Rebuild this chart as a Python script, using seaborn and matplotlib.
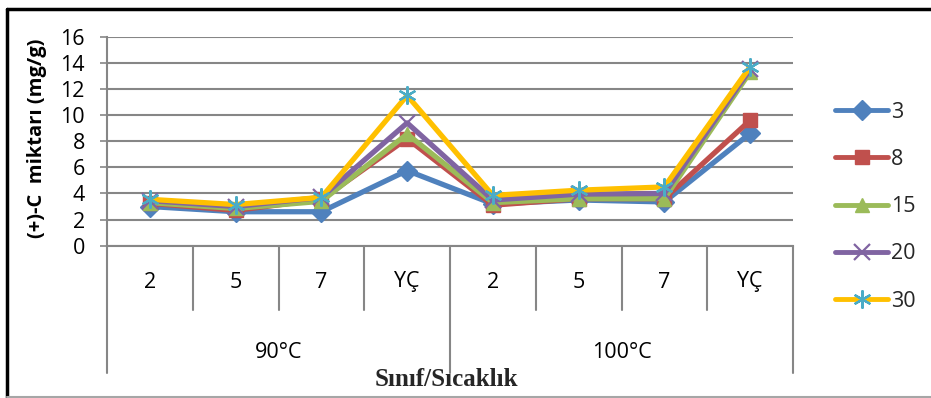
import matplotlib
matplotlib.use("Agg")
import matplotlib.pyplot as plt
import matplotlib.transforms as mtransforms
from matplotlib.lines import Line2D
import seaborn as sns
import pandas as pd

# ---- data ----
categories = ["2", "5", "7", "YÇ", "2", "5", "7", "YÇ"]
groups = ["90°C", "100°C"]
series_names = ["3", "8", "15", "20", "30"]
s3 = [3.0, 2.6, 2.6, 5.75, 3.2, 3.5, 3.35, 8.6]
s8 = [3.25, 2.7, 3.55, 8.2, 3.1, 3.6, 3.6, 9.6]
s15 = [3.3, 2.85, 3.4, 8.55, 3.3, 3.6, 3.6, 13.3]
s20 = [3.45, 3.0, 3.7, 9.4, 3.5, 3.95, 4.0, 13.5]
s30 = [3.55, 3.15, 3.7, 11.5, 3.85, 4.25, 4.5, 13.7]
values = [s3, s8, s15, s20, s30]

sns.set_theme(style="white")
plt.rcParams['font.family'] = ['Open Sans', 'DejaVu Sans']

W, H = 931, 398
fig = plt.figure(figsize=(W / 100, H / 100), dpi=100)
L, R, T, B = 107, 793, 36.7, 245.7
ax = fig.add_axes([L / W, 1 - B / H, (R - L) / W, (B - T) / H])

rows = []
for name, vals in zip(series_names, values):
    for i, v in enumerate(vals):
        rows.append({"pos": i, "value": v, "series": name})
df = pd.DataFrame(rows)

line_colors = ["#4F81BD", "#C0504D", "#9BBB59", "#8064A2", "#FFC000"]
markers = ["D", "s", "^", "x", (6, 2, 0)]
mfc = ["#4F81BD", "#C0504D", "#9BBB59", "#8064A2", "#4BACC6"]
mec = ["#4F81BD", "#C0504D", "#9BBB59", "#8064A2", "#4BACC6"]
msizes = [10, 10.5, 10.5, 11, 13]
mew = [1, 1, 1, 1.6, 1.6]

handles = []
for k, name in enumerate(series_names):
    sub = df[df["series"] == name]
    sns.lineplot(data=sub, x="pos", y="value", ax=ax, color=line_colors[k],
                 linewidth=3.8, marker=markers[k], markersize=msizes[k],
                 markerfacecolor=mfc[k], markeredgecolor=mec[k],
                 markeredgewidth=mew[k], zorder=3 + k, legend=False)
    handles.append(Line2D([0], [0], color=line_colors[k], linewidth=3.5,
                          marker=markers[k], markersize=msizes[k],
                          markerfacecolor=mfc[k], markeredgecolor=mec[k],
                          markeredgewidth=mew[k], label=name))

grid_c = "#868686"
txt_c = "#000000"
ax.set_xlim(-0.5, 7.5)
ax.set_ylim(0, 16)
ax.set_yticks(range(0, 17, 2))
ax.set_yticklabels([str(v) for v in range(0, 17, 2)], fontsize=15.5, color=txt_c)
ax.yaxis.grid(True, color=grid_c, linewidth=1.5)
ax.xaxis.grid(False)
ax.set_xticks([])
ax.tick_params(axis="y", left=True, length=5, width=1.2, color=grid_c, pad=11)
for s in ["top", "right"]:
    ax.spines[s].set_visible(False)
for s in ["left", "bottom"]:
    ax.spines[s].set_color(grid_c)
    ax.spines[s].set_linewidth(1.5)
ax.set_xlabel("")
ax.set_ylabel("")

trans = mtransforms.blended_transform_factory(ax.transData, ax.transAxes)
ah = B - T
y_inner = -(310 - B) / ah
y_group = -(373 - B) / ah
for xv in [0.5, 1.5, 2.5, 4.5, 5.5, 6.5]:
    ax.plot([xv, xv], [0, y_inner], transform=trans, color=grid_c, lw=1.5, clip_on=False)
for xv in [-0.5, 3.5, 7.5]:
    ax.plot([xv, xv], [0, y_group], transform=trans, color=grid_c, lw=1.5, clip_on=False)

y_cat = -(282 - B) / ah
for i, c in enumerate(categories):
    ax.text(i, y_cat, c, transform=trans, ha="center", va="center", fontsize=15.5, color=txt_c)
y_grp = -(352 - B) / ah
for g, xc in zip(groups, [1.5, 5.5]):
    ax.text(xc, y_grp, g, transform=trans, ha="center", va="center", fontsize=15.5, color=txt_c)

fig.text(446 / W, 1 - 379 / H, "Sınıf/Sıcaklık", ha="center", va="center",
         fontsize=18, fontweight="bold", family=["Liberation Serif", "DejaVu Serif"])
fig.text(37 / W, 1 - 138 / H, "(+)-C  miktarı (mg/g)", ha="center", va="center",
         rotation=90, fontsize=14.5, fontweight="bold", color="#000000")

leg = fig.legend(handles=handles, loc="upper left", bbox_to_anchor=(826 / W, 1 - 93 / H),
                 frameon=False, fontsize=15.5, handlelength=2.5, handletextpad=0.1,
                 labelspacing=1.22, borderaxespad=0)

# outer frame
fig.add_artist(Line2D([6.5 / W, 6.5 / W], [0, 1 - 8.5 / H], transform=fig.transFigure, color="black", lw=2.5))
fig.add_artist(Line2D([6.5 / W, 1], [1 - 8.5 / H, 1 - 8.5 / H], transform=fig.transFigure, color="black", lw=2.5))
fig.add_artist(Line2D([6.5 / W, 1], [1 - 396.5 / H, 1 - 396.5 / H], transform=fig.transFigure, color="#a6a6a6", lw=1.5))

fig.savefig("out.png", dpi=100, facecolor="white")
